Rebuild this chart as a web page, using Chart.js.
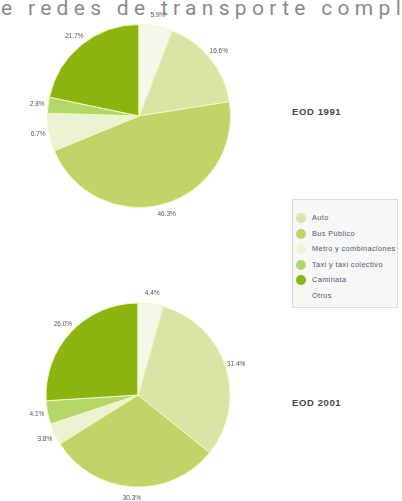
<!DOCTYPE html>
<html>
<head>
<meta charset="utf-8">
<script src="https://cdn.jsdelivr.net/npm/chart.js@4"></script>
<style>
  body { margin: 0; width: 402px; height: 501px; background: #fff; position: relative; overflow: hidden; font-family: "Liberation Sans", Arial, sans-serif; }
  #head { position: absolute; left: 1px; top: -2px; font: 400 21px Roboto, sans-serif; line-height: 21px; letter-spacing: 5.3px; color: #8a8a8a; white-space: nowrap; }
  .pie { position: absolute; left: 0; }
  .ttl { position: absolute; left: 292px; font-weight: bold; font-size: 9.5px; letter-spacing: 0.6px; color: #474747; line-height: 11px; }
  #legend { position: absolute; left: 292px; top: 199px; width: 106px; height: 109px; border: 1px solid #dcdcdc; background: #f7f7f7; box-sizing: border-box; padding-top: 10px; }
  #legend div { height: 15.6px; line-height: 15.6px; font-size: 7.3px; letter-spacing: 0.4px; color: #4d5870; white-space: nowrap; position: relative; padding-left: 19px; }
  #legend span { position: absolute; left: 3px; top: 3px; width: 10px; height: 10px; border-radius: 50%; }
</style>
</head>
<body>
<div id="head">e redes de transporte compl</div>

<canvas id="pie1" class="pie" width="280" height="240" style="top:0;width:280px;height:240px"></canvas>
<canvas id="pie2" class="pie" width="280" height="251" style="top:250px;width:280px;height:251px"></canvas>

<div class="ttl" style="top:106px">EOD 1991</div>
<div class="ttl" style="top:397px">EOD 2001</div>
<div id="legend"></div>

<script>
const modes = ["Auto", "Bus Público", "Metro y combinaciones", "Taxi y taxi colectivo", "Caminata", "Otros"];
const share1991 = [16.6, 46.3, 6.7, 2.8, 21.7, 5.9];
const share2001 = [31.4, 30.3, 3.8, 4.1, 26.0, 4.4];
const modeColors = ["#dbe4a6", "#c0d367", "#edf2d2", "#b2d668", "#8cb40f", "#f5f7ea"];

// percentage labels just outside each slice
const pctLabels = {
  id: "pctLabels",
  afterDatasetsDraw(chart) {
    const ctx = chart.ctx;
    const vals = chart.data.datasets[0].data;
    ctx.save();
    ctx.font = '6.5px "Liberation Sans", Arial';
    ctx.fillStyle = "#555";
    ctx.textAlign = "center";
    ctx.textBaseline = "middle";
    chart.getDatasetMeta(0).data.forEach((arc, i) => {
      const p = arc.getProps(["x", "y", "startAngle", "endAngle", "outerRadius"], true);
      const mid = (p.startAngle + p.endAngle) / 2;
      const r = p.outerRadius + 11;
      ctx.fillText(vals[i].toFixed(1) + "%", p.x + Math.cos(mid) * r, p.y + Math.sin(mid) * r);
    });
    ctx.restore();
  }
};

function makePie(id, values, padding) {
  const total = values.reduce((a, b) => a + b, 0);
  return new Chart(document.getElementById(id), {
    type: "pie",
    data: {
      labels: modes,
      datasets: [{
        data: values,
        backgroundColor: modeColors,
        borderColor: "#f3f8c4",
        borderWidth: 1,
      }],
    },
    options: {
      responsive: false,
      animation: false,
      // "Otros" ends at 12 o'clock, so the first slice starts after it
      rotation: values[values.length - 1] / total * 360,
      layout: { padding: padding },
      plugins: {
        legend: { display: false },
        tooltip: { enabled: false },
      },
    },
    plugins: [pctLabels],
  });
}

makePie("pie1", share1991, { left: 47, right: 49, top: 24, bottom: 32 });
makePie("pie2", share2001, { left: 45.5, right: 49.5, top: 52.5, bottom: 13.5 });

const legend = document.getElementById("legend");
modes.forEach((m, i) => {
  const row = document.createElement("div");
  row.innerHTML = `<span style="background:${modeColors[i]}"></span>${m}`;
  legend.appendChild(row);
});
</script>
</body>
</html>
